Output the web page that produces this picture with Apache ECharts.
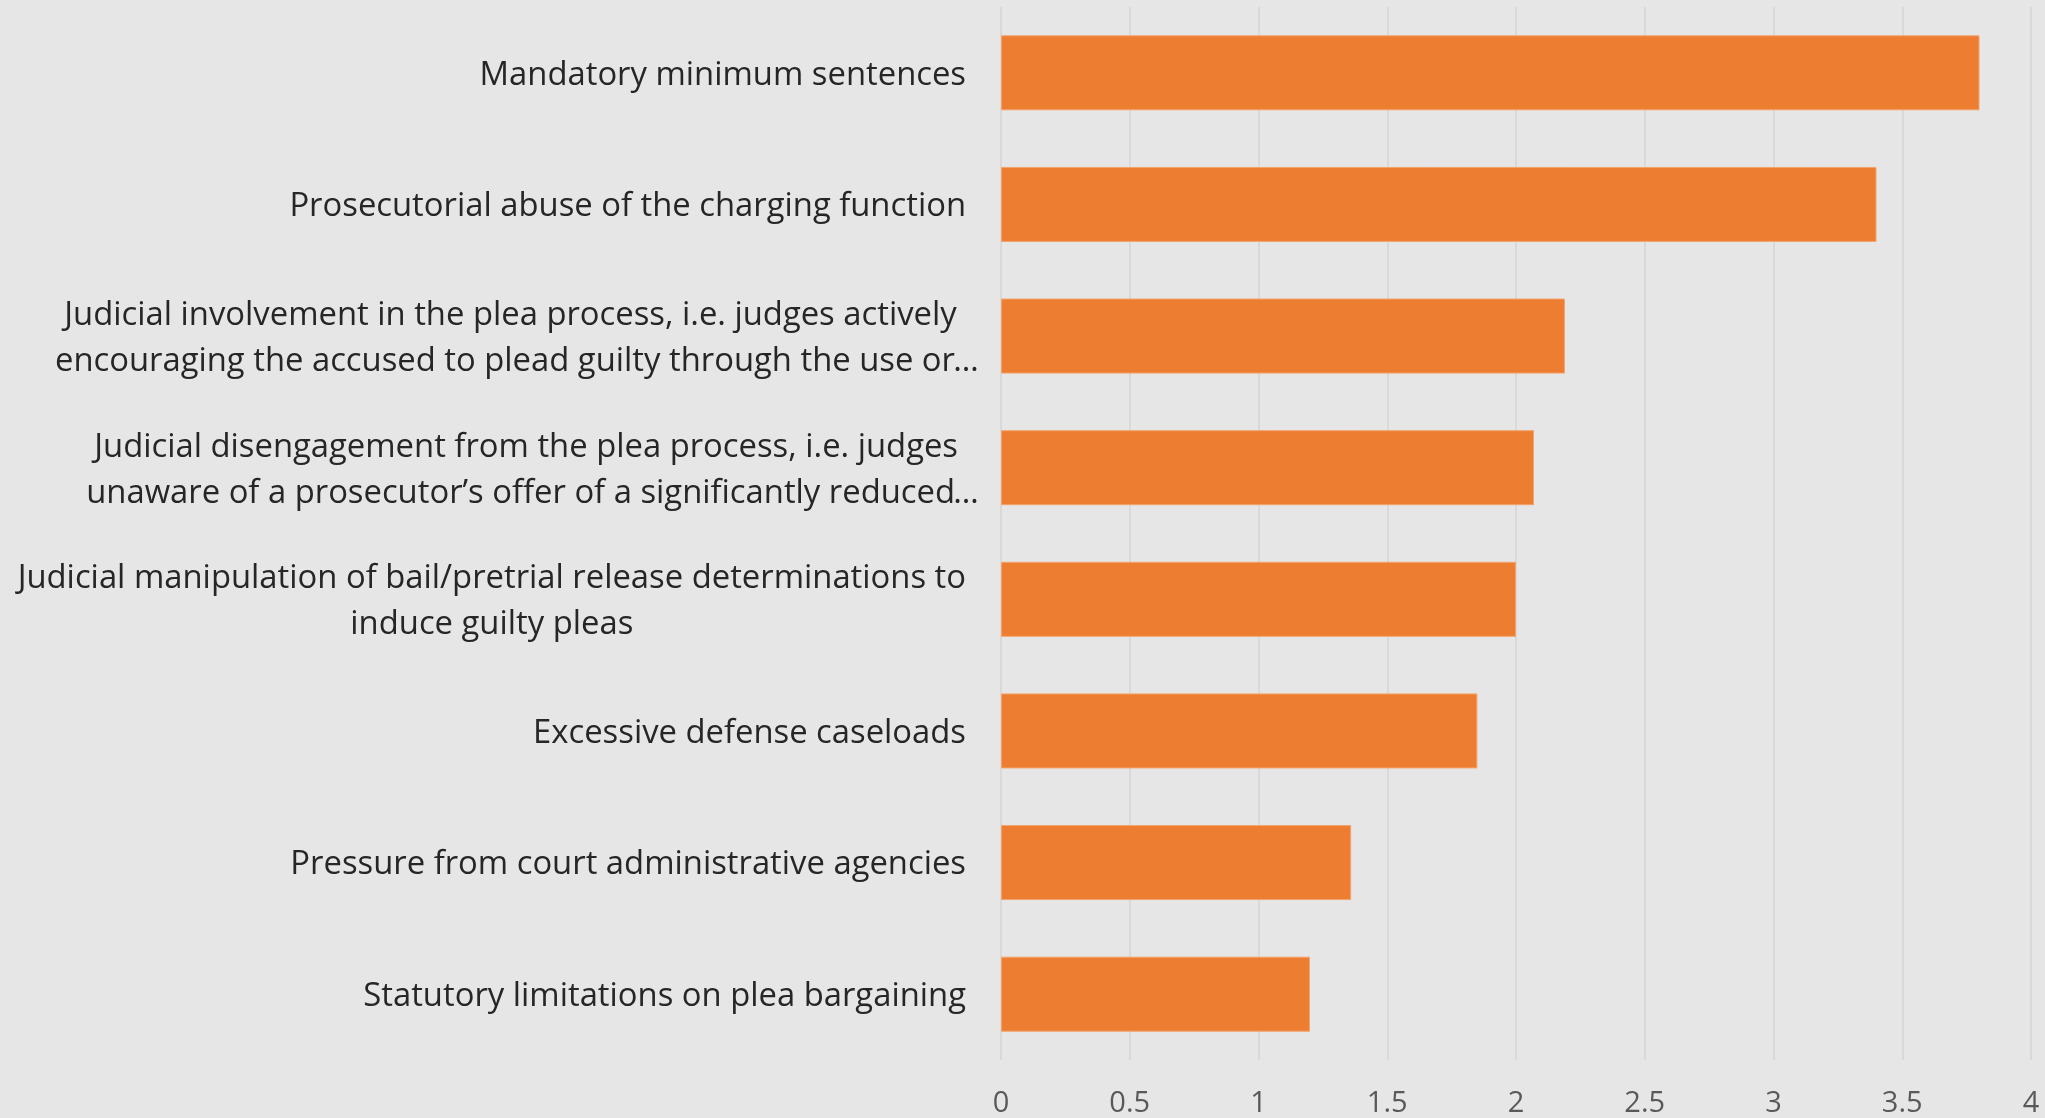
<!DOCTYPE html>
<html>
<head>
<meta charset="utf-8">
<title>Plea pressure factors</title>
<script src="https://cdn.jsdelivr.net/npm/echarts@6/dist/echarts.min.js"></script>
<style>
  html, body { margin: 0; padding: 0; background: #e7e6e6; }
  #chart { width: 2045px; height: 1118px; }
</style>
</head>
<body>
<div id="chart"></div>
<script>
// Factors, listed top to bottom
const categories = [
  'Mandatory minimum sentences',
  'Prosecutorial abuse of the charging function',
  'Judicial involvement in the plea process, i.e. judges actively\nencouraging the accused to plead guilty through the use or…',
  'Judicial disengagement from the plea process, i.e. judges\nunaware of a prosecutor’s offer of a significantly reduced…',
  'Judicial manipulation of bail/pretrial release determinations to\ninduce guilty pleas',
  'Excessive defense caseloads',
  'Pressure from court administrative agencies',
  'Statutory limitations on plea bargaining'
];
const values = [3.80, 3.40, 2.19, 2.07, 2.00, 1.85, 1.36, 1.20];
const xTicks = [0, 0.5, 1, 1.5, 2, 2.5, 3, 3.5, 4];

const FONT = 'Open Sans';
const LABEL_SIZE = 32.8;
const LINE_H = 46;

// Multi-line labels are centred line by line; a trailing ellipsis hangs past the block edge.
function formatCategory(value) {
  return value.split('\n').map(function (line) {
    if (line.endsWith('…')) {
      return '{t|' + line.slice(0, -1) + '}{e|…}';
    }
    return '{t|' + line + '}';
  }).join('\n');
}

const labelText = { color: '#262626', fontFamily: FONT, fontSize: LABEL_SIZE, lineHeight: LINE_H };

const chart = echarts.init(document.getElementById('chart'), null, { renderer: 'canvas' });
chart.setOption({
  backgroundColor: '#e7e6e6',
  animation: false,
  grid: { left: 1001, right: 14, top: 7, bottom: 55, containLabel: false },
  xAxis: {
    type: 'value',
    min: xTicks[0],
    max: xTicks[xTicks.length - 1],
    interval: xTicks[1] - xTicks[0],
    axisLine: { show: false },
    axisTick: { show: false },
    splitLine: { show: true, lineStyle: { color: '#d5d5d5', width: 1.5 } },
    axisLabel: {
      margin: 29,
      color: '#595959',
      fontFamily: FONT,
      fontSize: 29,
      formatter: function (v) { return String(v); }
    }
  },
  yAxis: {
    type: 'category',
    inverse: true,
    data: categories,
    axisLine: { show: false },
    axisTick: { show: false },
    splitLine: { show: false },
    axisLabel: Object.assign({
      margin: 35,
      padding: [5, 0, 0, 0],
      formatter: formatCategory,
      rich: {
        t: Object.assign({ align: 'center' }, labelText),
        e: Object.assign({ align: 'center', width: 0, padding: [0, 0, 0, 11] }, labelText)
      }
    }, labelText)
  },
  series: [{
    type: 'bar',
    data: values,
    barWidth: '57%',
    itemStyle: { color: '#ed7d31', borderColor: '#f4a36c', borderWidth: 1 }
  }]
});
</script>
</body>
</html>
